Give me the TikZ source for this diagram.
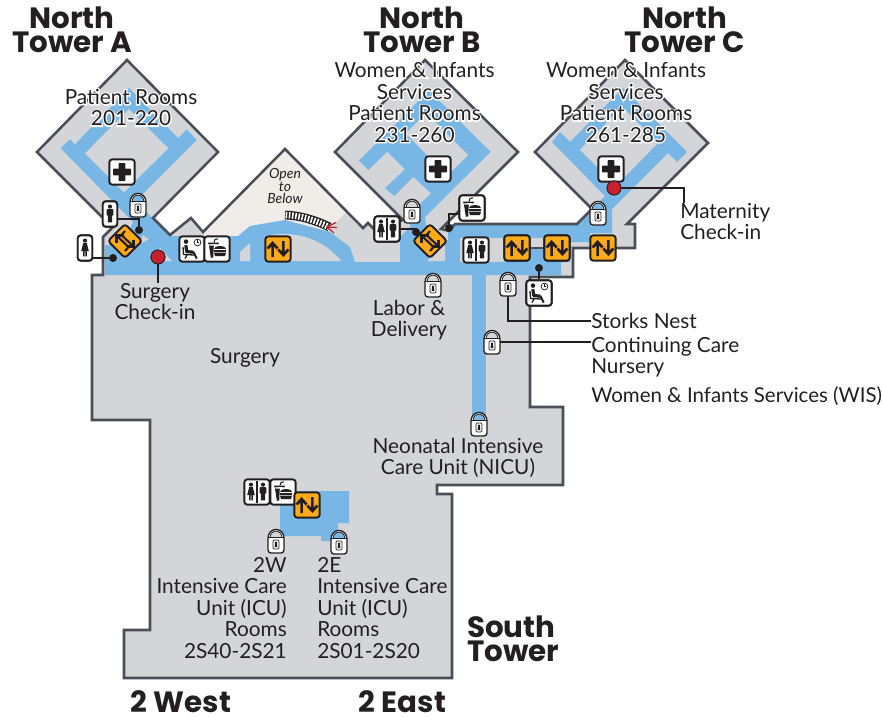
\documentclass[tikz,border=0pt]{standalone}
\usepackage{fontspec}
\setmainfont{Lato}
\newfontfamily\headfont{Poppins}[UprightFont=* SemiBold,BoldFont=* Bold]
\newfontfamily\halofont{Lato}[FakeBold=12]
\definecolor{wallc}{HTML}{4A4F57}
\definecolor{floorc}{HTML}{D3D5D8}
\definecolor{halle}{HTML}{78B7E5}
\definecolor{creamc}{HTML}{F0EDE8}
\definecolor{inkc}{HTML}{231F20}
\definecolor{orangec}{HTML}{FBAB18}
\definecolor{redc}{HTML}{C8202E}
\tikzset{
 wall/.style={draw=wallc,line width=1.9pt,line join=miter},
 leader/.style={draw=inkc,line width=.9pt},
 lbl/.style={text=inkc,inner sep=0pt,align=center,font=\fontsize{15.6}{16.1}\selectfont},
 lbll/.style={lbl,align=left},
 lblr/.style={lbl,align=right},
 halo/.style={text=white,inner sep=0pt,align=center,font=\fontsize{15.6}{16.1}\selectfont\halofont},
 head/.style={text=inkc,inner sep=0pt,align=center,font=\fontsize{22}{18}\selectfont\headfont\bfseries},
 iconbox/.style={draw=inkc,fill=white,line width=1.4pt,rounded corners=2.2pt,minimum width=19pt,minimum height=19pt,inner sep=0pt},
 singlebox/.style={iconbox,minimum width=10.8pt},
 liftbox/.style={iconbox,fill=orangec},
 liftdiag/.style={iconbox,fill=orangec,rotate=45,minimum width=18pt,minimum height=18pt},
 blackdot/.style={circle,fill=inkc,inner sep=0pt,minimum size=6pt},
 reddot/.style={circle,fill=redc,draw=inkc,line width=.6pt,inner sep=0pt,minimum size=10.5pt},
 lockbody/.style={draw=inkc,fill=white,line width=1pt},
}
\newcommand\glyphMan[3][1]{\begin{scope}[shift={(#2,#3)},scale=#1]
 \fill[inkc] (0,-7.4) circle (2.1);
 \fill[inkc,rounded corners=.7pt] (-3.4,-4.8) rectangle (3.4,1.6);
 \fill[inkc] (-2.2,0) rectangle (-.2,8.4) (.2,0) rectangle (2.2,8.4);
\end{scope}}
\newcommand\glyphWoman[3][1]{\begin{scope}[shift={(#2,#3)},scale=#1]
 \fill[inkc] (0,-7.4) circle (2.1);
 \fill[inkc] (-1.8,-4.8) -- (1.8,-4.8) -- (3.8,3) -- (-3.8,3) -- cycle;
 \fill[inkc] (-1.9,2) rectangle (-.3,8.4) (.3,2) rectangle (1.9,8.4);
\end{scope}}
\newcommand\glyphLift[2]{\begin{scope}[shift={(#1,#2)}]
 \draw[inkc,line width=2pt] (-5.4,8) -- (-5.4,-5.5) (-10.4,-.5) -- (-5.4,-6) -- (-.4,-.5);
 \draw[inkc,line width=2pt] (5.4,-8) -- (5.4,5.5) (.4,.5) -- (5.4,6) -- (10.4,.5);
\end{scope}}
\newcommand\glyphStair[2]{\begin{scope}[shift={(#1,#2)}]
 \draw[inkc,line width=1.6pt] (0,-10) -- (-3.5,-6) -- (8,5);
 \draw[inkc,line width=1.6pt] (8.5,-1.5) -- (8.5,5.5) -- (1.5,5.5);
 \draw[inkc,line width=1.6pt] (0,10) -- (3.5,6) -- (-8,-5);
 \draw[inkc,line width=1.6pt] (-8.5,1.5) -- (-8.5,-5.5) -- (-1.5,-5.5);
\end{scope}}
\newcommand\glyphCross[2]{\begin{scope}[shift={(#1,#2)}]
 \fill[inkc,rounded corners=.6pt] (-3.4,-9) rectangle (3.4,9);
 \fill[inkc,rounded corners=.6pt] (-9,-3.4) rectangle (9,3.4);
\end{scope}}
\newcommand\glyphFood[2]{\begin{scope}[shift={(#1,#2)}]
 \fill[inkc] (-9,-6.5) -- (2,-6.5) -- (1.4,-4.6) -- (-8.5,-4.6) -- cycle;
 \fill[inkc] (-8,-3.5) -- (1,-3.5) -- (-1,2) -- (-3,8.5) -- (-6.2,8.5) -- cycle;
 \draw[inkc,line width=.8pt] (-3,-6.5) -- (-2,-9.5) -- (1,-10.2);
 \fill[white] (-3,2) circle (7);
 \fill[inkc] (-3,-.2) .. controls (-2.5,-4) and (8.5,-4) .. (9,-.2) -- cycle;
 \fill[inkc] (-3,.9) rectangle (9,2.6);
 \fill[inkc] (-3,3.7) -- (9,3.7) -- (8,7) -- (-2,7) -- cycle;
 \fill[inkc] (-8,-3.5) -- (-3.2,-3.5) -- (-3.8,8.5) -- (-6.2,8.5) -- cycle;
\end{scope}}
\newcommand\glyphWait[2]{\begin{scope}[shift={(#1,#2)}]
 \fill[inkc] (-6,-7.4) circle (2.3);
 \draw[inkc,line width=2.4pt,line join=round] (-6.2,-3.8) -- (-5.2,2.6) -- (1.6,3.2);
 \draw[inkc,line width=1.5pt] (1.4,3) -- (4.8,9.6);
 \draw[inkc,line width=1pt] (-9,-2) -- (-8.5,5.5) -- (2,6) (-5,6) -- (-7,9.6);
 \draw[inkc,line width=.55pt] (5.5,-6.5) circle (3.4);
 \draw[inkc,line width=.5pt] (5.5,-8.6) -- (5.5,-6.5) -- (7.4,-6.5);
\end{scope}}
% lock icon: node name, x, y, colour of the arch
\newcommand\lockicon[4]{%
 \path[lockbody] (#2-8,#3-3) arc[start angle=180,end angle=360,x radius=8,y radius=8.6] -- (#2+8,#3+9) arc[start angle=0,end angle=90,radius=3] -- (#2-5,#3+12) arc[start angle=90,end angle=180,radius=3] -- cycle;
 \node[inner sep=0pt,minimum width=12pt,minimum height=18pt] (#1) at (#2,#3) {};
 \fill[#4] (#2-5.8,#3-4) arc[start angle=180,end angle=360,x radius=5.8,y radius=5.8] -- cycle;
 \draw[inkc,line width=.55pt] (#2-5.8,#3-4) arc[start angle=180,end angle=360,x radius=5.8,y radius=5.8];
 \draw[inkc,line width=.55pt] (#2-8,#3-4) -- (#2+8,#3-4);
 \draw[inkc,line width=.55pt,rounded corners=.8pt] (#2-3,#3-1) rectangle (#2+3,#3+8);
 \fill[inkc] (#2,#3+1.8) circle (1.4);
 \fill[inkc] (#2-.9,#3+2) -- (#2+.9,#3+2) -- (#2+1.4,#3+6) -- (#2-1.4,#3+6) -- cycle;
}
\begin{document}
\begin{tikzpicture}[x=.75pt,y=-.75pt]
\useasboundingbox (0,0) rectangle (882,718);
% floor
\fill[floorc] (37,152) -- (127,60) -- (218,152) -- (153,218) -- (170,235) -- (191,218) -- (203,232) -- (285,149) -- (363,228) -- (368,223) -- (374,229) -- (403,220) -- (335,152) -- (425,60) -- (518,152) -- (441,229) -- (449,231) -- (455,224) -- (577,224) -- (592,209) -- (535,152) -- (625,60) -- (708,143) -- (627,224) -- (635,224) -- (635,248) -- (573,248) -- (573,277) -- (530,277) -- (530,407) -- (563,407) -- (563,485) -- (437,485) -- (437,494) -- (452,494) -- (452,678) -- (124,678) -- (124,630) -- (150,630) -- (150,420) -- (92,420) -- (92,275) -- (103,275) -- (103,237) -- (112,228) -- (107,222) -- cycle;
% open to below
\fill[creamc] (203,232) -- (285,149) -- (347,211) -- (327,232) -- (285,221) -- (250,226) -- (238,237) -- (205,237) -- cycle;
% corridors
\fill[halle] (60.7,148.3) -- (70,139.3) -- (75,144.3) -- (129,88) -- (178.3,138.3) -- (186.7,129.3) -- (196.7,140) -- (136.7,200) -- (152,218) -- (170,236) -- (238,236) -- (250,226) -- (285,220) -- (330,232) -- (350,247) -- (355,262) -- (355,275) -- (105,275) -- (105,245) -- (122,245) -- (133,222) -- cycle;
\fill[halle] (359,160.7) -- (429,90.5) -- (481.7,143) -- (490.7,151.7) -- (425,217) -- (430,250) -- (400,250) -- (400,237) -- (411,226) -- (405,219) -- (431,193.3) -- (413.3,176.7) -- (394.3,196) -- (385,188.3) -- (405,169.3) -- (387.3,151.7) -- (368.3,170) -- cycle;
\fill[halle] (552,142) -- (560,132) -- (570,142) -- (623,88) -- (687,152) -- (677,162) -- (668,153) -- (612,209) -- (612,233) -- (590,233) -- (590,242) -- (570,242) -- (570,262) -- (561,262) -- (561,275) -- (355,275) -- (355,262) -- (400,262) -- (400,240) -- (448,240) -- (448,224) -- (577,224) -- (605,196) -- cycle;
\fill[halle] (472,270) rectangle (486,421);
\fill[halle] (280,491) -- (349,491) -- (349,523) -- (338,523) -- (338,541) -- (321,541) -- (321,536) -- (280,536) -- cycle;
% floor patches within corridors
\fill[floorc] (85,153.3) -- (129,109) -- (168.3,148.3) -- (124,192.3) -- cycle;
\fill[floorc] (405.5,133.5) -- (426,113) -- (468,155) -- (447.5,175.5) -- cycle;
\fill[floorc] (580,150) -- (622,107) -- (658,143) -- (616,186) -- cycle;
\fill[floorc] (152,261) -- (160,248) -- (172,261) -- cycle;
\fill[floorc] (142,235) -- (149,239) -- (142,243) -- cycle;
\fill[floorc] (240,261) -- (240,252) -- (250,243) -- (250,261) -- cycle;
\fill[floorc] (265,261) -- (265,236) .. controls (295,229) and (325,240) .. (341,261) -- cycle;
\fill[floorc] (427,261) -- (445,243) -- (445,261) -- cycle;
\fill[floorc] (460,238) rectangle (544,247);
\fill[floorc] (460,247) rectangle (504,262);
% walls
\draw[wall] (37,152) -- (127,60) -- (218,152) -- (153,218) -- (170,235) -- (191,218) -- (203,232) -- (285,149) -- (363,228) -- (368,223) -- (374,229) -- (403,220) -- (335,152) -- (425,60) -- (518,152) -- (441,229) -- (449,231) -- (455,224) -- (577,224) -- (592,209) -- (535,152) -- (625,60) -- (708,143) -- (627,224) -- (635,224) -- (635,248) -- (573,248) -- (573,277) -- (530,277) -- (530,407) -- (563,407) -- (563,485) -- (437,485) -- (437,494) -- (452,494) -- (452,678) -- (124,678) -- (124,630) -- (150,630) -- (150,420) -- (92,420) -- (92,275) -- (103,275) -- (103,237) -- (112,228) -- (107,222) -- cycle;
% stair opening
\draw[inkc,line width=6.6pt] (285,215) .. controls (300,215.5) and (315,220) .. (329.5,227);
\draw[white,line width=4.8pt,dash pattern=on 1.2pt off 1.2pt] (285.6,215) .. controls (300,215.5) and (315,220) .. (329,227);
\draw[redc,line width=.9pt] (337,227.5) -- (327,227) (336,222.5) -- (327,227) -- (334,233);
\node[inner sep=0pt,text=inkc,align=center,font=\fontsize{10.5}{9.3}\selectfont\itshape] (openl) at (285,186) {Open\\to\\Below};
% connectors
\node[blackdot] (d1) at (113,258) {};
\node[blackdot] (d2) at (139,230) {};
\node[blackdot] (d3) at (416,232) {};
\node[blackdot] (d4) at (449,228) {};
\node[blackdot] (d5) at (539,268) {};
\node[singlebox] (woman) at (85,248) {};
\node[singlebox] (man) at (110,214) {};
\coordinate (mc) at (117,219);
\coordinate (mk) at (139,219);
\draw[leader,line width=1.2pt] (woman.center |- d1) -- (d1);
\draw[leader] (mc) -- (mk) -- (d2);
\node[singlebox] (woman) at (85,248) {};
\node[singlebox] (man) at (110,214) {};
\glyphWoman{85}{248}
\glyphMan{110}{214}
\lockicon{lockA}{138}{205}{halle}
\node[liftdiag] (stairA) at (125,241) {};
\glyphStair{125}{241}
\node[reddot] (redA) at (158,257) {};
\node[iconbox] (crossA) at (122,172) {};
\glyphCross{122}{172}
\node[iconbox] (waitA) at (192,249) {};
\glyphWait{192}{249}
\node[iconbox] (foodA) at (217,249) {};
\glyphFood{217}{249}
\node[liftbox] (liftA) at (278,249) {};
\glyphLift{278}{249}
% tower B icons
\node[iconbox] (restB) at (387,229) {};
\draw[leader,line width=1.2pt] (restB) -- (restB -| d3) -- (d3);
\node[iconbox] (restB) at (387,229) {};
\glyphWoman{381}{229}\glyphMan{393}{229}
\draw[inkc,line width=.8pt] (387,218) -- (387,240);
\lockicon{lockB}{412}{211}{floorc}
\node[liftdiag] (stairB) at (430,241) {};
\glyphStair{430}{241}
\node[iconbox] (crossB) at (438,169) {};
\glyphCross{438}{169}
\node[iconbox] (foodB) at (472,208) {};
\coordinate (fk) at (449,214);
\draw[leader,line width=1.2pt] (d4) -- (fk) -- (foodB.west |- fk);
\node[iconbox] (foodB) at (472,208) {};
\glyphFood{472}{208}
% middle icons
\node[iconbox] (restC) at (476,250) {};
\glyphWoman{470}{250}\glyphMan{482}{250}
\draw[inkc,line width=.8pt] (476,239) -- (476,261);
\node[liftbox] (lift1) at (517,248) {};
\node[liftbox] (lift2) at (557,248) {};
\node[liftbox] (lift3) at (603,248) {};
\draw[wall] (lift1) -- (lift2);
\node[liftbox] (lift1) at (517,248) {};
\node[liftbox] (lift2) at (557,248) {};
\glyphLift{517}{248}\glyphLift{557}{248}\glyphLift{603}{248}
\lockicon{lockL}{433}{285}{floorc}
% tower C
\node[iconbox] (crossC) at (611,169) {};
\glyphCross{611}{169}
\lockicon{lockC}{598}{213}{halle}
\node[reddot] (redC) at (614,188) {};
% labels
\node[head] (ta) at (72,30) {North\\Tower A};
\node[head] (tb) at (422,30) {North\\Tower B};
\node[head] (tc) at (684.5,30) {North\\Tower C};
\node[head,align=left,anchor=west] (ts) at (467,639) {South\\Tower};
\node[head] (w2) at (181,702) {2 West};
\node[head] (e2) at (402.5,702) {2 East};
\node[halo] at (131,107.5) {Patient Rooms\\201-220};
\node[lbl] (pa) at (131,107.5) {Patient Rooms\\201-220};
\node[halo] at (414.5,102.5) {Women \& Infants\\Services\\Patient Rooms\\231-260};
\node[lbl] (pb) at (414.5,102.5) {Women \& Infants\\Services\\Patient Rooms\\231-260};
\node[halo] at (626,102.5) {Women \& Infants\\Services\\Patient Rooms\\261-285};
\node[lbl] (pc) at (626,102.5) {Women \& Infants\\Services\\Patient Rooms\\261-285};
\node[lbll,anchor=north west] (mat) at (680,203) {Maternity\\Check-in};
\coordinate (mk2) at (684,203);
\draw[leader] (redC) -| (mk2);
\node[lbl,anchor=north] (sc) at (155,283) {Surgery\\Check-in};
\coordinate (sk) at (158,283);
\draw[leader] (redA) -- (sk);
\node[reddot] (redA) at (158,257) {};
\node[reddot] (redC) at (614,188) {};
\node[lbl] (su) at (245,358) {Surgery};
\node[lbl] (ld) at (409,320) {Labor \&\\Delivery};
\node[lbll,anchor=west] (sn) at (591,321) {Storks Nest};
\node[lbll,anchor=north west] (cc) at (591,336.5) {Continuing Care\\Nursery};
\node[lbll,anchor=west,font=\fontsize{15.35}{16}\selectfont] (wis) at (591,396) {Women \& Infants Services (WIS)};
\node[lbl] (ni) at (458,458) {Neonatal Intensive\\Care Unit (NICU)};
\node[lblr,anchor=north east] (w) at (287,557) {2W\\Intensive Care\\Unit (ICU)\hspace*{3pt}\\Rooms\hspace*{3pt}\\2S40-2S21};
\node[lbll,anchor=north west] (e) at (317,557) {2E\\Intensive Care\\Unit (ICU)\\Rooms\\2S01-2S20};
% storks / nursery leaders and their icons
\node[iconbox] (waitB) at (539,293) {};
\draw[leader,line width=1.2pt] (d5) -- (waitB);
\node[iconbox] (waitB) at (539,293) {};
\glyphWait{539}{293}
\draw[leader] (508,284) |- (sn.west);
\lockicon{lockS}{508}{284}{floorc}
\draw[leader] (492,342) -- (cc.west |- 492,342);
\lockicon{lockN}{492}{342}{floorc}
\lockicon{lockU}{479}{424}{halle}
% south tower icons
\node[iconbox] (restS) at (257,492) {};
\glyphWoman{251}{492}\glyphMan{263}{492}
\draw[inkc,line width=.8pt] (257,481) -- (257,503);
\node[iconbox] (foodS) at (283,492) {};
\glyphFood{283}{492}
\node[liftbox] (liftS) at (307,505) {};
\glyphLift{307}{505}
\lockicon{lockW}{276}{541}{floorc}
\lockicon{lockE}{339}{542}{halle}
\end{tikzpicture}
\end{document}
